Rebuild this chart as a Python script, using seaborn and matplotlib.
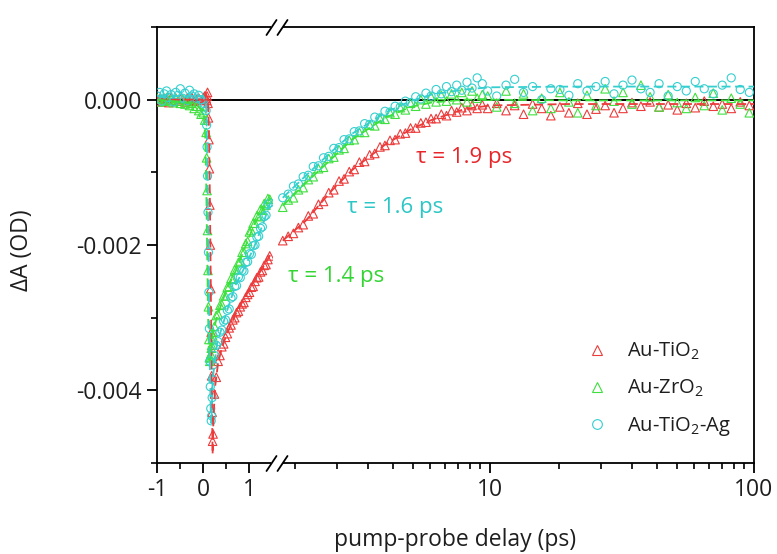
import numpy as np
import pandas as pd
import matplotlib
matplotlib.use("Agg")
import matplotlib.pyplot as plt
import seaborn as sns
from matplotlib.lines import Line2D
from matplotlib.patches import Rectangle
from matplotlib.ticker import FixedLocator, NullFormatter, FixedFormatter

# ---------------- data (ΔA in mOD) ----------------
series_names = ["Au-TiO$_2$", "Au-ZrO$_2$", "Au-TiO$_2$-Ag"]
series_colors = ["#ec3b3b", "#3ee03e", "#35cfcf"]
series_markers = ["^", "^", "o"]

t_pre = [-1.00, -0.95, -0.90, -0.85, -0.80, -0.75, -0.70, -0.65, -0.60, -0.55, -0.50,
         -0.45, -0.40, -0.35, -0.30, -0.25, -0.20, -0.15, -0.10, -0.05, 0.00, 0.03]
t_drop = [0.06, 0.07, 0.08, 0.09, 0.10, 0.11, 0.12, 0.13, 0.14, 0.15, 0.16, 0.17,
          0.18, 0.19, 0.20, 0.21]
t_rise = [0.24, 0.28, 0.32, 0.36, 0.40, 0.44, 0.48, 0.52, 0.56, 0.60, 0.64, 0.68,
          0.72, 0.76, 0.80, 0.84, 0.88, 0.92, 0.96, 1.00, 1.04, 1.08, 1.12, 1.16,
          1.20, 1.24, 1.28, 1.32, 1.36, 1.40, 1.44]
t_right = [1.64, 1.72, 1.80, 1.88, 1.96, 2.05, 2.14, 2.24, 2.34, 2.45, 2.56, 2.68,
           2.80, 2.93, 3.06, 3.20, 3.35, 3.50, 3.66, 3.83, 4.00, 4.18, 4.37, 4.57,
           4.78, 5.00, 5.23, 5.47, 5.72, 5.98, 6.25, 6.54, 6.84, 7.15, 7.48, 7.82,
           8.18, 8.55, 8.94, 9.35]
t_tail = [9.8, 10.6, 11.5, 12.4, 13.4, 14.5, 15.7, 17.0, 18.4, 19.9, 21.5, 23.3,
          25.2, 27.3, 29.5, 31.9, 34.5, 37.3, 40.4, 43.7, 47.3, 51.2, 55.4, 59.9,
          64.8, 70.1, 75.8, 82.0, 88.7, 96.0]

red_pre = [-0.02, 0.01, -0.03, 0.02, 0.00, -0.04, 0.03, -0.01, 0.02, -0.02, 0.01,
           0.00, -0.03, 0.02, -0.01, 0.03, -0.02, 0.00, 0.02, -0.01, 0.03, 0.05]
red_drop = [0.02, -0.01, 0.05, 0.10, -0.05, -0.25, -0.55, -0.95, -1.45, -2.00, -2.60,
            -3.20, -3.80, -4.30, -4.70, -4.60]
red_rise = [-4.05, -3.82, -3.60, -3.52, -3.40, -3.36, -3.27, -3.22, -3.14, -3.10,
            -3.03, -3.00, -2.93, -2.91, -2.85, -2.81, -2.79, -2.72, -2.68, -2.65,
            -2.58, -2.57, -2.50, -2.45, -2.44, -2.37, -2.35, -2.28, -2.27, -2.20, -2.15]
red_right = [-1.94, -1.88, -1.84, -1.76, -1.72, -1.60, -1.57, -1.44, -1.40, -1.28,
             -1.24, -1.12, -1.09, -0.99, -0.96, -0.86, -0.85, -0.76, -0.74, -0.65,
             -0.63, -0.56, -0.55, -0.47, -0.46, -0.39, -0.39, -0.32, -0.31, -0.26,
             -0.26, -0.20, -0.22, -0.15, -0.17, -0.11, -0.15, -0.08, -0.12, -0.07]
red_tail = [-0.12, -0.05, -0.15, -0.08, -0.20, -0.06, -0.12, -0.22, -0.10, -0.18,
            -0.05, -0.20, -0.13, -0.08, -0.18, -0.12, -0.04, -0.09, -0.03, -0.10,
            -0.07, -0.14, -0.05, -0.11, -0.02, -0.09, -0.06, -0.12, -0.03, -0.08]

green_pre = [0.02, -0.03, 0.01, -0.02, 0.03, -0.01, 0.00, -0.04, 0.02, -0.02, -0.05,
             0.01, -0.06, -0.03, -0.08, -0.05, -0.12, -0.09, -0.15, -0.20, -0.18, -0.28]
green_drop = [-0.45, -0.80, -1.25, -1.80, -2.35, -2.85, -3.30, -3.55, -3.60, -3.55,
              -3.50, -3.42, -3.38, -3.30, -3.25, -3.20]
green_rise = [-3.12, -2.97, -2.95, -2.83, -2.82, -2.70, -2.70, -2.58, -2.57, -2.46,
              -2.47, -2.34, -2.34, -2.24, -2.22, -2.10, -2.10, -1.98, -1.95, -1.82,
              -1.80, -1.70, -1.70, -1.60, -1.61, -1.51, -1.52, -1.43, -1.45, -1.36, -1.37]
green_right = [-1.48, -1.38, -1.35, -1.24, -1.21, -1.10, -1.06, -0.95, -0.93, -0.81,
               -0.79, -0.69, -0.67, -0.56, -0.55, -0.45, -0.45, -0.35, -0.36, -0.26,
               -0.27, -0.18, -0.20, -0.11, -0.14, -0.05, -0.09, 0.00, -0.06, 0.04,
               -0.03, 0.06, -0.02, 0.08, 0.00, 0.10, -0.03, 0.12, 0.02, 0.07]
green_tail = [0.05, -0.10, 0.12, -0.05, 0.08, -0.15, 0.02, -0.12, 0.10, -0.03,
              -0.18, 0.06, -0.08, 0.15, -0.02, 0.10, -0.06, 0.20, 0.04, -0.10,
              0.07, -0.04, -0.12, 0.03, -0.08, 0.09, -0.14, 0.02, -0.06, -0.18]

cyan_pre = [0.05, 0.10, -0.02, 0.08, 0.12, 0.03, 0.07, -0.03, 0.10, 0.06, 0.15,
            0.02, 0.09, -0.01, 0.13, 0.05, 0.08, 0.02, 0.06, 0.00, -0.05, -0.10]
cyan_drop = [-0.15, -0.35, -0.65, -1.05, -1.55, -2.10, -2.65, -3.15, -3.60, -3.95,
             -4.25, -4.42, -4.35, -4.10, -3.85, -3.65]
cyan_rise = [-3.52, -3.38, -3.33, -3.20, -3.17, -3.05, -3.03, -2.90, -2.88, -2.73,
             -2.71, -2.57, -2.56, -2.44, -2.45, -2.35, -2.36, -2.24, -2.23, -2.12,
             -2.13, -2.01, -2.00, -1.89, -1.88, -1.77, -1.75, -1.61, -1.59, -1.44, -1.42]
cyan_right = [-1.35, -1.30, -1.19, -1.16, -1.06, -1.04, -0.92, -0.91, -0.80, -0.78,
              -0.67, -0.66, -0.55, -0.54, -0.44, -0.43, -0.33, -0.34, -0.24, -0.25,
              -0.16, -0.17, -0.09, -0.10, -0.02, -0.04, 0.04, 0.01, 0.09, 0.05,
              0.14, 0.08, 0.18, 0.11, 0.20, 0.13, 0.24, 0.16, 0.30, 0.22]
cyan_tail = [0.12, 0.05, 0.20, 0.28, 0.10, 0.18, 0.00, 0.15, 0.14, 0.06,
             0.22, 0.12, 0.18, 0.25, 0.08, 0.20, 0.27, 0.15, 0.10, 0.22,
             0.05, 0.18, 0.12, 0.25, 0.15, 0.08, 0.20, 0.30, 0.14, 0.10]

# fitted curves (dashed)
red_fit_t_left = [-1.0, 0.10, 0.12, 0.14, 0.16, 0.18, 0.19, 0.20, 0.22, 0.26, 0.32,
                  0.40, 0.50, 0.70, 0.90, 1.10, 1.30, 1.45]
red_fit_v_left = [0.0, 0.0, -0.40, -1.30, -2.50, -3.80, -4.40, -4.88, -4.35, -3.92,
                  -3.62, -3.42, -3.24, -2.95, -2.72, -2.50, -2.30, -2.14]
green_fit_t_left = [-1.0, -0.20, 0.00, 0.04, 0.06, 0.08, 0.10, 0.12, 0.14, 0.20, 0.30,
                    0.50, 0.70, 0.90, 1.10, 1.30, 1.45]
green_fit_v_left = [0.0, -0.05, -0.15, -0.50, -1.10, -2.00, -2.90, -3.50, -3.62, -3.22,
                    -2.98, -2.62, -2.36, -2.04, -1.72, -1.50, -1.35]
cyan_fit_t_left = [-1.0, 0.00, 0.06, 0.08, 0.10, 0.12, 0.14, 0.16, 0.17, 0.18, 0.20,
                   0.30, 0.50, 0.70, 0.90, 1.10, 1.30, 1.45]
cyan_fit_v_left = [0.05, 0.05, -0.10, -0.60, -1.50, -2.60, -3.60, -4.30, -4.45, -4.30,
                   -3.85, -3.35, -2.93, -2.55, -2.30, -2.03, -1.70, -1.42]
fit_t_right = [1.64, 2.0, 2.5, 3.0, 4.0, 5.0, 6.0, 8.0, 10.0, 20.0, 50.0, 100.0]
red_fit_v_right = [-1.94, -1.67, -1.26, -0.97, -0.62, -0.41, -0.28, -0.13, -0.08,
                   -0.06, -0.06, -0.06]
green_fit_v_right = [-1.46, -1.15, -0.82, -0.55, -0.25, -0.10, -0.04, 0.00, 0.00,
                     -0.01, -0.01, -0.01]
cyan_fit_v_right = [-1.35, -1.05, -0.72, -0.47, -0.18, -0.02, 0.07, 0.14, 0.17,
                    0.18, 0.18, 0.18]

tau_labels = ["τ = 1.9 ps", "τ = 1.4 ps", "τ = 1.6 ps"]
tau_pos = [(5.25, -0.00080), (1.72, -0.00244), (2.87, -0.00149)]
tau_colors = ["#e8262a", "#33d533", "#2cc6c6"]

y_major = [-0.004, -0.002, 0.0]
y_major_labels = ["-0.004", "-0.002", "0.000"]
y_minor = [-0.005, -0.003, -0.001, 0.001]
x_left_major = [-1, 0, 1]
x_left_minor = [-0.5, 0.5]
x_right_major = [10, 100]
x_right_minor = [1.818, 2.636, 3.455, 4.273, 5.091, 5.909, 6.727, 7.545, 8.364, 9.182,
                 18.18, 26.36, 34.55, 42.73, 50.91, 59.09, 67.27, 75.45, 83.64, 91.82]

# ---------------- build tables ----------------
pre = {"red": red_pre, "green": green_pre, "cyan": cyan_pre}
drop = {"red": red_drop, "green": green_drop, "cyan": cyan_drop}
rise = {"red": red_rise, "green": green_rise, "cyan": cyan_rise}
right = {"red": red_right, "green": green_right, "cyan": cyan_right}
tail = {"red": red_tail, "green": green_tail, "cyan": cyan_tail}
keys = ["red", "green", "cyan"]
fits_left = {"red": (red_fit_t_left, red_fit_v_left),
             "green": (green_fit_t_left, green_fit_v_left),
             "cyan": (cyan_fit_t_left, cyan_fit_v_left)}
fits_right = {"red": red_fit_v_right, "green": green_fit_v_right, "cyan": cyan_fit_v_right}

rows = []
for k, name in zip(keys, series_names):
    t_all = t_pre + t_drop + t_rise + t_right + t_tail
    v_all = pre[k] + drop[k] + rise[k] + right[k] + tail[k]
    rows.append(pd.DataFrame({"t": t_all, "dA": np.array(v_all) * 1e-3, "series": name}))
df = pd.concat(rows, ignore_index=True)

# ---------------- style ----------------
sns.set_theme(style="ticks")
plt.rcParams["font.family"] = ["Open Sans", "DejaVu Sans"]
plt.rcParams["mathtext.fontset"] = "custom"
plt.rcParams["mathtext.rm"] = "Open Sans"
plt.rcParams["mathtext.it"] = "Open Sans:italic"
plt.rcParams["axes.unicode_minus"] = False
plt.rcParams["text.color"] = "#1e1e1e"

W, H = 777, 554
fig = plt.figure(figsize=(W / 100, H / 100), dpi=100)
x0, xj, x1 = 157.3, 272.5, 754.0
ytop, ybot = 27.0, 463.0
ax1 = fig.add_axes([x0 / W, 1 - ybot / H, (xj - x0) / W, (ybot - ytop) / H])
ax2 = fig.add_axes([xj / W, 1 - ybot / H, (x1 - xj) / W, (ybot - ytop) / H], sharey=ax1)
ax2.set_xscale("log")
ax1.set_xlim(-1, 1.5)
ax2.set_xlim(1.5, 100)
ax1.set_ylim(-0.005, 0.001)

for ax in (ax1, ax2):
    ax.axhline(0, color="black", lw=1.4, zorder=1)

def draw(ax, sub_df, fit_t, fit_v_map):
    for k, name, c, m in zip(keys, series_names, series_colors, series_markers):
        sub = sub_df[sub_df.series == name]
        n_before = len(ax.collections)
        sns.scatterplot(data=sub, x="t", y="dA", ax=ax, marker=m,
                        s=38 if m == "^" else 34, color=c, legend=False, zorder=3)
        for coll in ax.collections[n_before:]:
            coll.set_facecolor("none")
            coll.set_edgecolor(c)
            coll.set_linewidth(0.8)
    for k, c in zip(keys, series_colors):
        ft, fv = fit_t(k), fit_v_map(k)
        sns.lineplot(x=ft, y=np.array(fv) * 1e-3, ax=ax, color=c, lw=1.3, sort=False,
                     estimator=None, linestyle=(0, (5, 2.5)), zorder=4, legend=False)

draw(ax1, df[df.t <= 1.5], lambda k: fits_left[k][0], lambda k: fits_left[k][1])
draw(ax2, df[df.t >= 1.5], lambda k: fit_t_right, lambda k: fits_right[k])

# spines
for ax in (ax1, ax2):
    for s in ax.spines.values():
        s.set_linewidth(1.3)
        s.set_color("black")
ax1.spines["right"].set_visible(False)
ax2.spines["left"].set_visible(False)

# ticks
ax1.yaxis.set_major_locator(FixedLocator(y_major))
ax1.yaxis.set_major_formatter(FixedFormatter(y_major_labels))
ax1.yaxis.set_minor_locator(FixedLocator(y_minor))
ax1.xaxis.set_major_locator(FixedLocator(x_left_major))
ax1.xaxis.set_major_formatter(FixedFormatter([str(v) for v in x_left_major]))
ax1.xaxis.set_minor_locator(FixedLocator(x_left_minor))
ax2.xaxis.set_major_locator(FixedLocator(x_right_major))
ax2.xaxis.set_major_formatter(FixedFormatter([str(v) for v in x_right_major]))
ax2.xaxis.set_minor_locator(FixedLocator(x_right_minor))
ax2.xaxis.set_minor_formatter(NullFormatter())
for ax in (ax1, ax2):
    ax.tick_params(which="major", direction="out", length=7, width=1.3,
                   labelsize=16.5, color="black", labelcolor="#1e1e1e", pad=4)
    ax.tick_params(which="minor", direction="out", length=4, width=1.2, color="black")
    ax.tick_params(axis="x", which="both", top=False)
    ax.set_xlabel("")
    ax.set_ylabel("")
ax1.tick_params(axis="y", which="both", right=False)
ax2.tick_params(axis="y", which="both", left=False, right=False, labelleft=False)

# tau annotations
for lab, (tx, ty), c in zip(tau_labels, tau_pos, tau_colors):
    ax2.text(tx, ty, lab, color=c, fontsize=16, ha="left", va="center")

# legend
handles = [Line2D([], [], marker=m, ls="none", mfc="none", mec=c, ms=7, mew=0.8)
           for m, c in zip(series_markers, series_colors)]
ax2.legend(handles, series_names, loc="upper left", bbox_to_anchor=(0.632, 0.298),
           frameon=False, fontsize=14.5, handlelength=1.2, handletextpad=0.9,
           labelspacing=0.78, borderaxespad=0)

# axis labels
fig.text(455 / W, 1 - 540 / H, "pump-probe delay (ps)", ha="center", va="center",
         fontsize=16.5)
fig.text(22 / W, 1 - 250 / H, "ΔA (OD)", ha="center", va="center", rotation=90,
         fontsize=16.5)

# axis break marks
def px(x, y):
    return (x / W, 1 - y / H)

for yc in (ytop, ybot):
    fig.add_artist(Rectangle(px(270.5, yc + 3), 12.5 / W, 6 / H, transform=fig.transFigure,
                             facecolor="white", edgecolor="none", zorder=10))
    for xs in (266.5, 277.5):
        (xa, ya), (xb, yb) = px(xs, yc + 8), px(xs + 10, yc - 7)
        fig.add_artist(Line2D([xa, xb], [ya, yb], transform=fig.transFigure,
                              color="black", lw=1.3, zorder=11))

fig.savefig("out.png", dpi=100)
